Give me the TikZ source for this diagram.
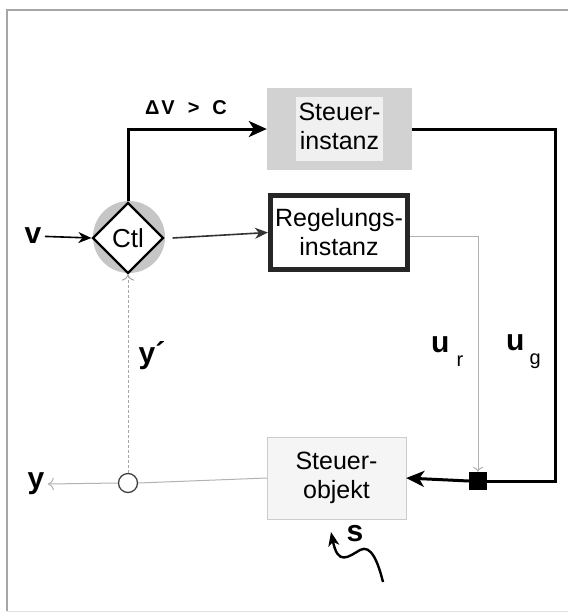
\documentclass[tikz,border=0pt]{standalone}
\usepackage{fontspec}
\setmainfont{Liberation Sans}
\usetikzlibrary{shapes.geometric,positioning,arrows.meta,backgrounds}

\begin{document}
\begin{tikzpicture}[x=1pt, y=-1pt, >=latex,
    instbox/.style={minimum width=142pt, minimum height=80pt, inner sep=0pt, align=center,
        font=\fontsize{25}{29}\selectfont},
    ctlbox/.style={diamond, aspect=1, minimum size=71pt, inner sep=0pt, draw, line width=2.2pt,
        fill=white, font=\fontsize{26}{26}\selectfont},
    lbl/.style={font=\fontsize{30}{32}\selectfont\bfseries},
    thickarrow/.style={-{Stealth[length=18pt,width=16pt,inset=5pt]}, line width=3pt},
    thinarrow/.style={-{Stealth[length=13pt,width=11pt,inset=4pt]}, line width=1.6pt},
    greyline/.style={gray!60, line width=1pt}]
        \useasboundingbox (0,0) rectangle (568,614);
        % ==== FRAME ====
        \draw[gray!70, line width=2pt] (568,10) -- (7,10) -- (7,611);
        \draw[gray!25, line width=1pt] (7,611) -- (568,611);
        % ==== BLOCKS ====
        \node[instbox, fill=gray!35, minimum width=145pt, minimum height=82pt] (steuer) at (339.5,129)
            {\colorbox{gray!12}{\begin{tabular}{@{}c@{}}Steuer-\\instanz\end{tabular}}};
        \node[instbox, draw=black!85, line width=5pt, fill=white, minimum width=137pt, minimum height=74pt]
            (regel) at (339,232.5) {Regelungs-\\instanz};
        \node[instbox, draw=gray!40, fill=gray!8, minimum width=139pt, minimum height=82pt]
            (objekt) at (336.5,478) {Steuer-\\objekt};
        \node[ctlbox] (ctl) at (128,238) {Ctl};
        \begin{scope}[on background layer]
            \fill[gray!45] ([xshift=1pt,yshift=1pt]ctl.center) circle (36);
        \end{scope}
        \node[draw, circle, black!75, line width=1.3pt, minimum size=19pt, inner sep=0pt] (tap) at (128,483) {};
        \node[fill=black, minimum size=18pt, inner sep=0pt] (junc) at (478,481) {};
        \coordinate (gcorner) at (555,481);
        % ==== LABELS ====
        \node[lbl] (v) at (33,236) {v};
        \node[lbl] (y) at (36,484) {y};
        \node[lbl] (yd) at (152,356) {y´};
        \node[font=\fontsize{20}{20}\selectfont\bfseries] (cond) at (186,108)
            {Δ\hspace{2pt}V\hspace{13pt}>\hspace{13pt}C};
        \node[lbl, anchor=west, inner sep=0pt] (ur) at (431,352)
            {u\hspace{7pt}\raisebox{-14pt}{\fontsize{20}{20}\selectfont\mdseries r}};
        \node[lbl, anchor=west, inner sep=0pt] (ug) at (506,352)
            {u\hspace{5pt}\raisebox{-14pt}{\fontsize{20}{20}\selectfont\mdseries g}};
        \node[lbl] (s) at (355,534) {s};
        % ==== CONNECTIONS ====
        \draw[thinarrow] (v) -- (ctl.west);
        \draw[thickarrow] (ctl.north) |- (steuer.west);
        \draw[thinarrow, black!80] ([xshift=8pt]ctl.east) -- (regel.west);
        \draw[line width=3pt] (steuer.east) -| (gcorner) -- (junc.east);
        \draw[thickarrow] (junc.west) -- (objekt.east);
        \draw[greyline, -{To[length=5pt]}] ([yshift=-4pt]regel.east) -| (junc.north);
        \draw[greyline] (objekt.west) -- (tap.east);
        \draw[greyline, -{To[length=6pt]}] (tap.west) -- (y.east);
        \draw[gray!70, densely dashed, line width=1pt, -{To[length=6pt]}] (tap.north) -- (ctl.south);
        % ==== DISTURBANCE ====
        \coordinate (sfrom) at (383,582);
        \coordinate (sto) at (331,532);
        \draw[line width=2.4pt, -{Stealth[length=14pt,width=11pt,inset=4pt]}] (sfrom)
            .. controls (378,562) and (371,544) .. (360,550)
            .. controls (348,557) and (338,566) .. (sto);
\end{tikzpicture}
\end{document}
